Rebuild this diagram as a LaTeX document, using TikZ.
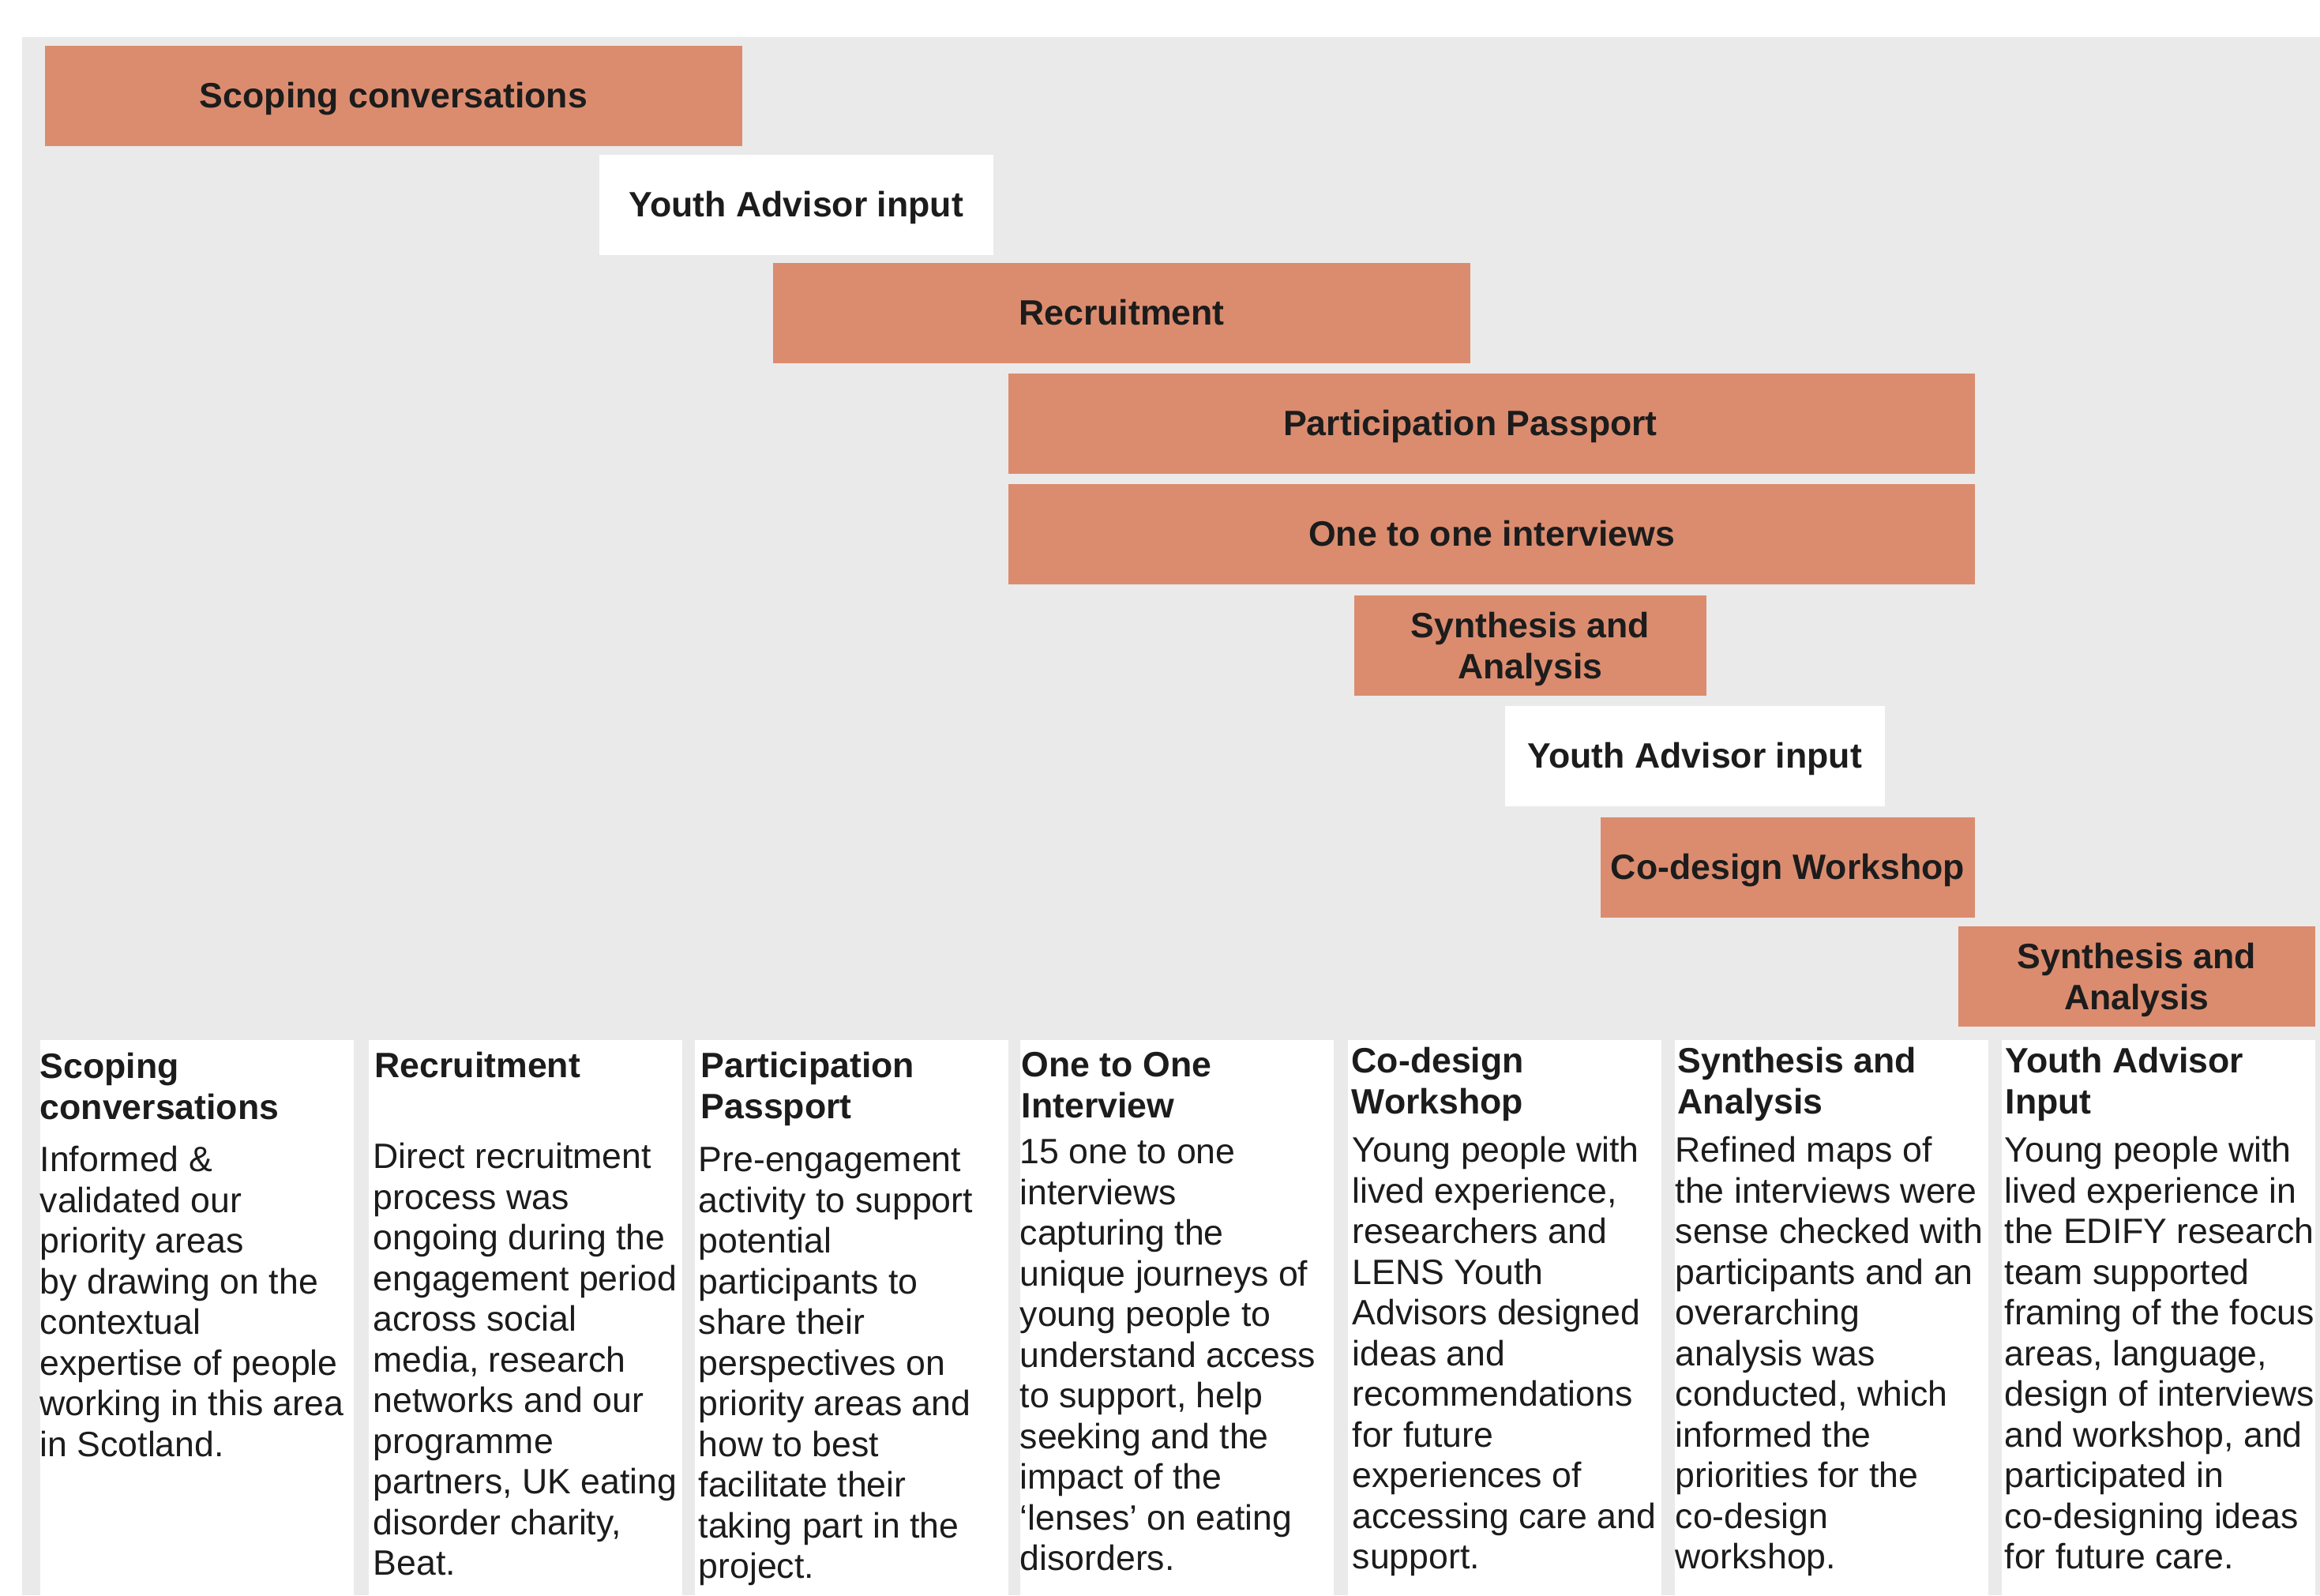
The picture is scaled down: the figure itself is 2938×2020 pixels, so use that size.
\documentclass[tikz,border=0pt]{standalone}
\usepackage{fontspec}
\setmainfont{Liberation Sans}
\definecolor{barfill}{HTML}{DB8C6F}
\definecolor{panelgrey}{HTML}{EAEAEA}
\definecolor{ink}{HTML}{1C1C1C}
\newcommand{\phasefont}{\fontsize{12.69pt}{14.65pt}\selectfont}
\begin{document}
\begin{tikzpicture}[x=0.01cm,y=-0.01cm,
  phase/.style={anchor=north west,fill=barfill,inner sep=0pt,
    minimum height=1.27cm,text=ink,font=\phasefont\bfseries,align=center},
  single/.style={text height=8.8pt,text depth=0pt},
  twoline/.style={text depth=0pt},
  advisor/.style={phase,fill=white},
  column/.style={anchor=north west,fill=white,inner sep=0pt,
    minimum width=3.97cm,minimum height=7.04cm},
  coltitle/.style={anchor=north west,inner sep=0pt,align=left,text=ink,
    font=\phasefont\bfseries},
  colbody/.style={anchor=north west,inner sep=0pt,align=left,text=ink,
    font=\phasefont}]
\useasboundingbox (0,0) rectangle (2938,2020);
\fill[panelgrey] (28,47) rectangle (2938,2020);
% timeline bars
\node[phase,single,minimum width=8.83cm] (scoping) at (56,57) {Scoping conversations};
\node[advisor,single,minimum width=4.99cm] (advisorA) at (758,195) {Youth Advisor input};
\node[phase,single,minimum width=8.83cm] (recruit) at (978,332) {Recruitment};
\node[phase,single,minimum width=12.24cm] (passport) at (1276,472) {Participation Passport\hspace*{0.54cm}};
\node[phase,single,minimum width=12.24cm] (interviews) at (1276,612) {One to one interviews};
\node[phase,twoline,minimum width=4.46cm] (synthA) at (1714,753) {Synthesis and\\Analysis};
\node[advisor,single,minimum width=4.81cm] (advisorB) at (1905,893) {Youth Advisor input};
\node[phase,single,minimum width=4.74cm] (workshop) at (2026,1034) {Co-design Workshop};
\node[phase,twoline,minimum width=4.52cm] (synthB) at (2479,1172) {Synthesis and\\Analysis};
% description columns
\node[column] (colA) at (50,1316) {};
\node[column] (colB) at (466,1316) {};
\node[column] (colC) at (879,1316) {};
\node[column] (colD) at (1291,1316) {};
\node[column] (colE) at (1706,1316) {};
\node[column] (colF) at (2120,1316) {};
\node[column] (colG) at (2534,1316) {};
\node[coltitle] (titleA) at (50,1329) {\strut Scoping\\conversations};
\node[colbody] (bodyA) at (50,1447) {\strut Informed \&\\validated our\\priority areas\\by drawing on the\\contextual\\expertise of people\\working in this area\\in Scotland.};
\node[coltitle] (titleB) at (474,1328) {\strut Recruitment};
\node[colbody] (bodyB) at (472,1443) {\strut Direct recruitment\\process was\\ongoing during the\\engagement period\\across social\\media, research\\networks and our\\programme\\partners, UK eating\\disorder charity,\\Beat.};
\node[coltitle] (titleC) at (887,1328) {\strut Participation\\Passport};
\node[colbody] (bodyC) at (884,1447) {\strut Pre-engagement\\activity to support\\potential\\participants to\\share their\\perspectives on\\priority areas and\\how to best\\facilitate their\\taking part in the\\project.};
\node[coltitle] (titleD) at (1293,1327) {\strut One to One\\Interview};
\node[colbody] (bodyD) at (1291,1437) {\strut 15 one to one\\interviews\\capturing the\\unique journeys of\\young people to\\understand access\\to support, help\\seeking and the\\impact of the\\‘lenses’ on eating\\disorders.};
\node[coltitle] (titleE) at (1711,1322) {\strut Co-design\\Workshop};
\node[colbody] (bodyE) at (1712,1435) {\strut Young people with\\lived experience,\\researchers and\\LENS Youth\\Advisors designed\\ideas and\\recommendations\\for future\\experiences of\\accessing care and\\support.};
\node[coltitle] (titleF) at (2124,1322) {\strut Synthesis and\\Analysis};
\node[colbody] (bodyF) at (2121,1435) {\strut Refined maps of\\the interviews were\\sense checked with\\participants and an\\overarching\\analysis was\\conducted, which\\informed the\\priorities for the\\co-design\\workshop.};
\node[coltitle] (titleG) at (2539,1322) {\strut Youth Advisor\\Input};
\node[colbody] (bodyG) at (2538,1435) {\strut Young people with\\lived experience in\\the EDIFY research\\team supported\\framing of the focus\\areas, language,\\design of interviews\\and workshop, and\\participated in\\co-designing ideas\\for future care.};
\end{tikzpicture}
\end{document}
